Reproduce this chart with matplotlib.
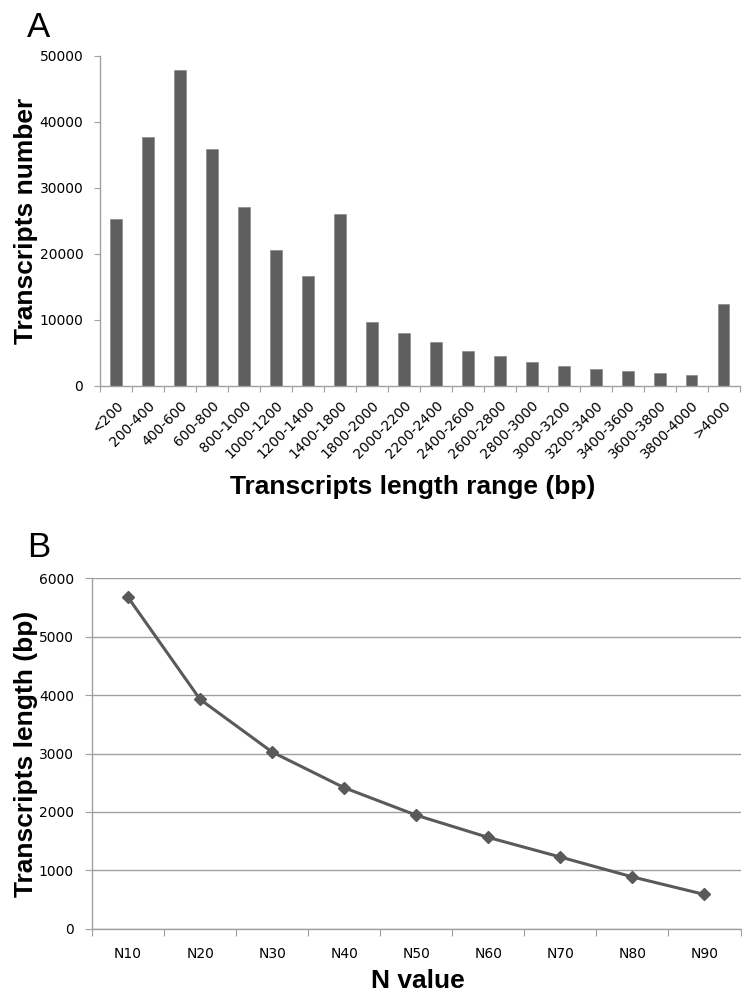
import numpy as np
import matplotlib
matplotlib.use("Agg")
import matplotlib.pyplot as plt

# panel A data
length_ranges = ['<200', '200-400', '400-600', '600-800', '800-1000', '1000-1200',
                 '1200-1400', '1400-1800', '1800-2000', '2000-2200', '2200-2400',
                 '2400-2600', '2600-2800', '2800-3000', '3000-3200', '3200-3400',
                 '3400-3600', '3600-3800', '3800-4000', '>4000']
transcript_counts = [25300, 37700, 47900, 35900, 27100, 20600, 16700, 26000, 9700,
                     8100, 6600, 5300, 4500, 3700, 3000, 2600, 2200, 1900, 1700, 12400]

# panel B data
n_labels = ['N10', 'N20', 'N30', 'N40', 'N50', 'N60', 'N70', 'N80', 'N90']
n_lengths = [5670, 3925, 3025, 2415, 1945, 1565, 1230, 890, 590]

bar_color = '#5f5f5f'
axis_color = '#a0a0a0'
label_font = 'Liberation Sans'
tick_font = 'DejaVu Sans'
label_size = 19
tick_size = 10

fig = plt.figure(figsize=(7.42, 9.94), dpi=100)

# ---- A ----
axA = fig.add_axes([0.1348, 0.6117, 0.862, 0.332])
x = np.arange(len(length_ranges))
axA.bar(x, transcript_counts, width=0.365, color=bar_color, edgecolor='#8a8a8a', linewidth=0.5)
axA.set_xlim(-0.5, len(length_ranges) - 0.5)
axA.set_ylim(0, 50000)
axA.set_yticks(range(0, 50001, 10000))
axA.set_xticks(x)
axA.set_xticklabels(length_ranges, rotation=45, ha='right', rotation_mode='anchor',
                    fontsize=tick_size, family=tick_font)
axA.set_xticks(np.arange(-0.5, len(length_ranges)), minor=True)
axA.tick_params(axis='x', which='major', length=0, pad=9)
axA.tick_params(axis='x', which='minor', length=4, width=0.8, color=axis_color, direction='out')
axA.tick_params(axis='y', length=4, width=0.8, color=axis_color, labelsize=tick_size, pad=8)
for lab in axA.get_yticklabels():
    lab.set_family(tick_font)
for s in ['top', 'right']:
    axA.spines[s].set_visible(False)
for s in ['left', 'bottom']:
    axA.spines[s].set_color(axis_color)
    axA.spines[s].set_linewidth(1.0)
axA.set_ylabel('Transcripts number', fontsize=label_size, fontweight='bold', family=label_font)
axA.yaxis.set_label_coords(-0.097, 0.5)
axA.set_xlabel('Transcripts length range (bp)', fontsize=label_size, fontweight='bold', family=label_font)
axA.xaxis.set_label_coords(0.489, -0.27)
fig.text(0.0525, 0.972, 'A', fontsize=25, family=label_font, ha='center', va='center')

# ---- B ----
axB = fig.add_axes([0.124, 0.0654, 0.874, 0.3531])
xb = np.arange(len(n_labels))
axB.plot(xb, n_lengths, color='#5a5a5a', linewidth=2.2, marker='D', markersize=6.5,
         markerfacecolor='#5a5a5a', markeredgecolor='#5a5a5a')
axB.set_xlim(-0.5, len(n_labels) - 0.5)
axB.set_ylim(0, 6000)
axB.set_yticks(range(0, 6001, 1000))
axB.yaxis.grid(True, color=axis_color, linewidth=1.0)
axB.set_axisbelow(True)
axB.set_xticks(xb)
axB.set_xticklabels(n_labels, fontsize=tick_size, family=tick_font)
axB.set_xticks(np.arange(-0.5, len(n_labels)), minor=True)
axB.tick_params(axis='x', which='major', length=0, pad=13)
axB.tick_params(axis='x', which='minor', length=5, width=0.8, color=axis_color, direction='out')
axB.tick_params(axis='y', length=5, width=0.8, color=axis_color, labelsize=tick_size, pad=8)
for lab in axB.get_yticklabels():
    lab.set_family(tick_font)
for s in ['top', 'right']:
    axB.spines[s].set_visible(False)
for s in ['left', 'bottom']:
    axB.spines[s].set_color(axis_color)
    axB.spines[s].set_linewidth(1.0)
axB.set_ylabel('Transcripts length (bp)', fontsize=label_size, fontweight='bold', family=label_font)
axB.yaxis.set_label_coords(-0.083, 0.5)
axB.set_xlabel('N value', fontsize=label_size, fontweight='bold', family=label_font)
axB.xaxis.set_label_coords(0.502, -0.115)
fig.text(0.0525, 0.4495, 'B', fontsize=25, family=label_font, ha='center', va='center')

fig.savefig('out.png', dpi=100)
